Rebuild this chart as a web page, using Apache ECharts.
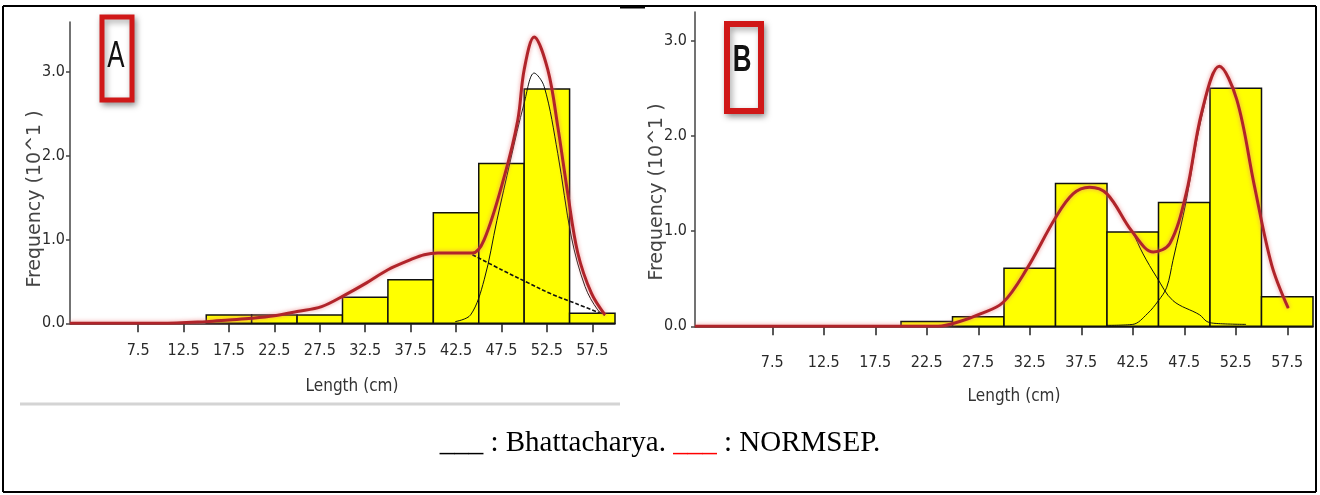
<!DOCTYPE html>
<html>
<head>
<meta charset="utf-8">
<script src="https://cdn.jsdelivr.net/npm/echarts@6/dist/echarts.min.js"></script>
<style>
  html, body { margin: 0; padding: 0; background: #fff; }
  #chart { width: 1320px; height: 495px; }
</style>
</head>
<body>
<div id="chart"></div>
<script>
// ---------- data ----------
const binWidth = 5;
const xTickValues = [7.5, 12.5, 17.5, 22.5, 27.5, 32.5, 37.5, 42.5, 47.5, 52.5, 57.5];
const yTickValues = [0, 1, 2, 3];

// Panel A histogram (bin start, frequency x10)
const binStartA = [15, 20, 25, 30, 35, 40, 45, 50, 55];
const freqA     = [0.1, 0.1, 0.1, 0.31, 0.52, 1.32, 1.91, 2.8, 0.12];

// Panel A NORMSEP (red)
const normsepAx = [0, 5, 10, 15, 17.5, 20, 22.5, 25, 27.7, 30.3, 32.6, 35, 37.5, 39, 40.5, 42.5, 44.3, 45.6, 47.8, 49.3, 50, 51.1, 52.6, 53.7, 54.8, 55.9, 57.4, 58.9];
const normsepAy = [0, 0, 0, 0.02, 0.04, 0.06, 0.09, 0.14, 0.2, 0.34, 0.48, 0.64, 0.76, 0.82, 0.84, 0.84, 0.84, 1.0, 1.75, 2.43, 3.03, 3.42, 3.03, 2.35, 1.55, 0.84, 0.36, 0.1];

// Panel A Bhattacharya components (black)
const bhatA1x = [44.3, 47.5, 50.5, 53, 55.6, 58.9];
const bhatA1y = [0.82, 0.64, 0.48, 0.35, 0.24, 0.1];
const bhatA2x = [42.4, 44.1, 45.6, 47, 48.5, 50, 51.1, 52.2, 53.7, 55.2, 56.7, 58.1, 58.9];
const bhatA2y = [0.02, 0.1, 0.52, 1.23, 1.95, 2.63, 2.99, 2.83, 2.03, 1.03, 0.44, 0.16, 0.1];

// Panel B histogram
const binStartB = [20, 25, 30, 35, 40, 45, 50, 55];
const freqB     = [0.05, 0.1, 0.61, 1.5, 0.99, 1.3, 2.5, 0.31];

// Panel B NORMSEP (red)
const normsepBx = [0, 5, 10, 15, 20, 23.6, 25.7, 27.7, 29.9, 32.2, 35, 36.7, 38.3, 40, 42.4, 44.5, 46.1, 47.7, 49.2, 50.9, 52.6, 54.3, 56, 57.6];
const normsepBy = [0, 0, 0, 0, 0, 0, 0.05, 0.13, 0.25, 0.6, 1.14, 1.39, 1.46, 1.39, 1.0, 0.78, 0.87, 1.4, 2.25, 2.73, 2.38, 1.48, 0.64, 0.19];

// Panel B Bhattacharya components (black)
const bhatB1x = [40, 42.4, 43.5, 44.8, 46.4, 49, 49.7, 50.6, 53.5];
const bhatB1y = [1.39, 1.0, 0.76, 0.52, 0.27, 0.12, 0.05, 0.03, 0.02];
const bhatB2x = [40, 42.5, 43.9, 45, 45.8, 46.4, 47.7, 49.2, 50.9, 52.6, 54.3, 56, 57.6];
const bhatB2y = [0.01, 0.02, 0.13, 0.27, 0.41, 0.69, 1.32, 2.2, 2.73, 2.38, 1.48, 0.64, 0.19];

const xName = 'Length (cm)';
const yName = 'Frequency (10^1 )';
const legendText = ['___', ' : Bhattacharya. ', '___', ' : NORMSEP.'];

// ---------- helpers ----------
const zip = (xs, ys) => xs.map((x, i) => [x, ys[i]]);
const narrow = "'Liberation Sans Narrow', 'DejaVu Sans Condensed', 'Liberation Sans', Arial, sans-serif";

function histSeries(idx, starts, freqs) {
  return {
    type: 'custom',
    xAxisIndex: idx, yAxisIndex: idx,
    z: 1,
    data: zip(starts, freqs),
    renderItem: function (params, api) {
      const x0 = api.value(0), h = api.value(1);
      const p0 = api.coord([x0, h]);
      const p1 = api.coord([x0 + binWidth, 0]);
      return {
        type: 'rect',
        shape: { x: p0[0], y: p0[1], width: p1[0] - p0[0], height: p1[1] - p0[1] },
        style: { fill: '#ffff00', stroke: '#111', lineWidth: 1.5 }
      };
    }
  };
}
function lineSeries(idx, xs, ys, style, z) {
  return {
    type: 'line', xAxisIndex: idx, yAxisIndex: idx,
    data: zip(xs, ys), smooth: 0.35, showSymbol: false, symbol: 'none',
    z: z, lineStyle: style, animation: false
  };
}
const redStyle = { color: '#b0242a', width: 3, shadowColor: 'rgba(235,120,120,0.8)', shadowBlur: 4 };
const blackStyle = { color: '#111', width: 1 };
const blackDash = { color: '#111', width: 1.6, type: [4, 2] };

function xAxisDef(idx, margin) {
  return {
    type: 'value', gridIndex: idx, min: 0, max: 60,
    axisLine: { show: true, lineStyle: { color: '#111', width: 1.5 } },
    axisTick: { show: true, customValues: xTickValues, length: 9, inside: false, lineStyle: { color: '#222', width: 1.5 } },
    axisLabel: { customValues: xTickValues, margin: margin, color: '#2a2a2a', fontSize: 16, fontFamily: narrow,
      formatter: v => v.toFixed(1) },
    splitLine: { show: false }
  };
}
function yAxisDef(idx, max, margin) {
  return {
    type: 'value', gridIndex: idx, min: 0, max: max,
    axisLine: { show: true, lineStyle: { color: '#444', width: 1.5 } },
    axisTick: { show: true, customValues: yTickValues, length: 4, lineStyle: { color: '#444', width: 1.5 } },
    axisLabel: { customValues: yTickValues, margin: margin, color: '#2a2a2a', fontSize: 16, fontFamily: narrow,
      formatter: v => v.toFixed(1) },
    splitLine: { show: false }
  };
}

const chart = echarts.init(document.getElementById('chart'), null, { renderer: 'canvas' });
chart.setOption({
  animation: false,
  backgroundColor: '#ffffff',
  grid: [
    { left: 70, top: 22, width: 545, height: 301.3 },
    { left: 695, top: 12, width: 618, height: 314.3 }
  ],
  xAxis: [xAxisDef(0, 20), xAxisDef(1, 29)],
  yAxis: [yAxisDef(0, 3.6, 5), yAxisDef(1, 3.3, 8)],
  series: [
    histSeries(0, binStartA, freqA),
    lineSeries(0, bhatA1x, bhatA1y, blackDash, 2),
    lineSeries(0, bhatA2x, bhatA2y, blackStyle, 2),
    lineSeries(0, normsepAx, normsepAy, redStyle, 3),
    histSeries(1, binStartB, freqB),
    lineSeries(1, bhatB1x, bhatB1y, blackStyle, 2),
    lineSeries(1, bhatB2x, bhatB2y, blackStyle, 2),
    lineSeries(1, normsepBx, normsepBy, redStyle, 3)
  ],
  graphic: [
    // figure border
    { type: 'line', shape: { x1: 3, y1: 6, x2: 1316, y2: 6 }, style: { stroke: '#000', lineWidth: 2 } },
    { type: 'line', shape: { x1: 620, y1: 7, x2: 645, y2: 7 }, style: { stroke: '#000', lineWidth: 3 } },
    { type: 'line', shape: { x1: 3, y1: 6, x2: 3, y2: 492 }, style: { stroke: '#000', lineWidth: 2 } },
    { type: 'line', shape: { x1: 1316, y1: 6, x2: 1316, y2: 492 }, style: { stroke: '#000', lineWidth: 2 } },
    { type: 'line', shape: { x1: 3, y1: 492, x2: 1316, y2: 492 }, style: { stroke: '#000', lineWidth: 2 } },
    // gray rule under panel A
    { type: 'line', shape: { x1: 20, y1: 404, x2: 620, y2: 404 }, style: { stroke: '#d4d4d4', lineWidth: 3 } },
    // axis titles
    { type: 'text', x: 352, y: 387, style: { text: xName, fontSize: 17, fontFamily: narrow, fill: '#333', align: 'center', verticalAlign: 'middle' } },
    { type: 'text', x: 1014, y: 397, style: { text: xName, fontSize: 17, fontFamily: narrow, fill: '#333', align: 'center', verticalAlign: 'middle' } },
    { type: 'text', x: 35, y: 199, rotation: Math.PI / 2, style: { text: yName, fontSize: 19, fontFamily: "'DejaVu Sans', sans-serif", fill: '#444', align: 'center', verticalAlign: 'middle' } },
    { type: 'text', x: 657, y: 192, rotation: Math.PI / 2, style: { text: yName, fontSize: 19, fontFamily: "'DejaVu Sans', sans-serif", fill: '#444', align: 'center', verticalAlign: 'middle' } },
    // panel tags
    { type: 'rect', shape: { x: 102, y: 17, width: 30, height: 83 }, style: { fill: '#fff', stroke: '#d01818', lineWidth: 5, shadowBlur: 6, shadowColor: 'rgba(0,0,0,0.35)', shadowOffsetX: 2, shadowOffsetY: 3 }, z: 10 },
    { type: 'text', x: 116, y: 57, z: 11, scaleX: 0.72, style: { text: 'A', fontSize: 36, fontFamily: "'Liberation Sans', Arial, sans-serif", fill: '#111', align: 'center', verticalAlign: 'middle' } },
    { type: 'rect', shape: { x: 727, y: 24, width: 34, height: 87 }, style: { fill: '#fff', stroke: '#d01818', lineWidth: 6, shadowBlur: 6, shadowColor: 'rgba(0,0,0,0.35)', shadowOffsetX: 2, shadowOffsetY: 3 }, z: 10 },
    { type: 'text', x: 742, y: 61, z: 11, scaleX: 0.72, style: { text: 'B', fontSize: 36, fontWeight: 'bold', fontFamily: "'Liberation Sans', Arial, sans-serif", fill: '#111', align: 'center', verticalAlign: 'middle' } },
    // legend line
    { type: 'text', x: 660, y: 443, style: {
        text: '{k|' + legendText[0] + '}' + legendText[1] + '{r|' + legendText[2] + '}' + legendText[3],
        fontSize: 29, fontFamily: "'Liberation Serif', 'Times New Roman', serif", fill: '#000',
        align: 'center', verticalAlign: 'middle',
        rich: { k: { fill: '#000', fontSize: 29, fontFamily: "'Liberation Serif', serif" }, r: { fill: '#ff0000', fontSize: 29, fontFamily: "'Liberation Serif', serif" } }
      } }
  ]
});
</script>
</body>
</html>
